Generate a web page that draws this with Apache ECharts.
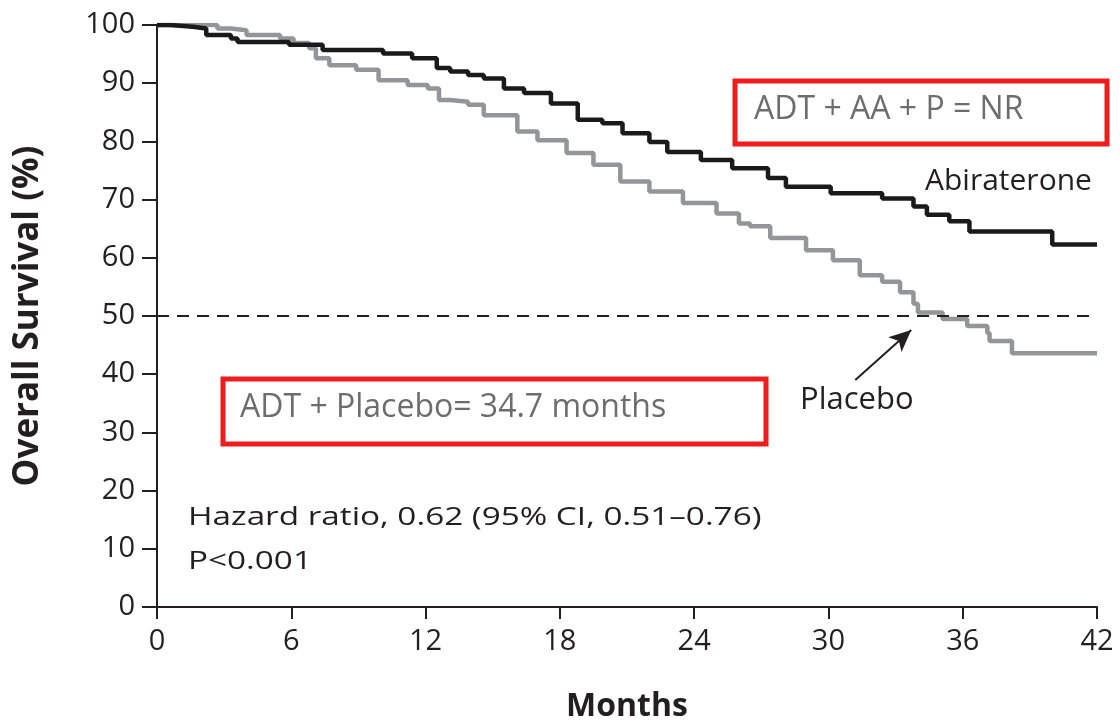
<!DOCTYPE html>
<html>
<head>
<meta charset="utf-8">
<script src="https://cdn.jsdelivr.net/npm/echarts@6/dist/echarts.min.js"></script>
<style>
  html, body { margin: 0; padding: 0; background: #fff; }
  #chart { width: 1120px; height: 726px; }
</style>
</head>
<body>
<div id="chart"></div>
<script>
// months / survival %
const abiMonths = [0, 0.6, 1.6, 2.2, 3.3, 3.6, 5.9, 7.4, 10.1, 11.4, 12.5, 13.1, 13.9, 14.6, 15.5, 16.4, 17.6, 18.8, 19.9, 20.8, 22.0, 22.8, 24.3, 25.7, 27.3, 28.1, 30.1, 32.4, 33.8, 34.4, 35.4, 36.3, 40.0, 42];
const abiSurv   = [100, 99.7, 99.4, 98.3, 97.7, 97.1, 96.6, 95.7, 95.1, 94.3, 92.6, 92.0, 91.4, 90.8, 89.1, 88.3, 86.5, 83.7, 83.1, 81.4, 79.9, 78.2, 76.8, 75.4, 73.7, 72.2, 71.1, 70.2, 68.8, 67.4, 66.3, 64.5, 62.3, 62.3];
const plaMonths = [0, 2.4, 2.7, 3.3, 4.0, 5.5, 6.1, 6.8, 7.1, 7.7, 8.9, 9.9, 11.2, 12.1, 12.6, 13.1, 13.9, 14.6, 16.1, 17.0, 18.3, 19.5, 20.7, 22.0, 23.5, 25.0, 26.0, 26.5, 27.4, 29.0, 30.2, 31.4, 32.4, 33.2, 33.8, 34.0, 35.1, 36.2, 37.1, 37.2, 38.2, 42];
const plaSurv   = [100, 100, 99.4, 99.1, 98.3, 97.7, 96.9, 96.0, 94.3, 93.1, 92.3, 90.5, 89.7, 89.1, 87.1, 86.8, 86.3, 84.5, 81.7, 80.2, 78.0, 76.0, 73.1, 71.4, 69.4, 67.6, 65.9, 65.4, 63.4, 61.3, 59.6, 57.0, 55.9, 54.1, 52.1, 50.6, 49.5, 48.3, 47.1, 45.7, 43.6, 43.6];
const xTicks = [0, 6, 12, 18, 24, 30, 36, 42];
const yTicks = [0, 10, 20, 30, 40, 50, 60, 70, 80, 90, 100];
const medianLine = 50;
const arrowFrom = [31.2, 39.0];
const arrowTo = [33.7, 47.6];

const chart = echarts.init(document.getElementById('chart'));

const txt = '#231f20';
const boxText = '#6d6d6d';
const font = '"Open Sans"';

chart.setOption({
  animation: false,
  grid: { left: 157, right: 23, top: 25, bottom: 119, containLabel: false, outerBoundsMode: 'none' },
  xAxis: {
    type: 'value',
    min: xTicks[0],
    max: xTicks[xTicks.length - 1],
    interval: 6,
    name: 'Months',
    nameLocation: 'middle',
    nameGap: 84,
    nameTextStyle: { fontFamily: font, fontWeight: 'bold', fontSize: 32, color: txt },
    axisLine: { lineStyle: { color: txt, width: 2 } },
    axisTick: { length: 12, lineStyle: { color: txt, width: 2 } },
    axisLabel: { fontFamily: font, fontSize: 29, color: txt, margin: 20 },
    splitLine: { show: false }
  },
  yAxis: {
    type: 'value',
    min: yTicks[0],
    max: yTicks[yTicks.length - 1],
    interval: 10,
    name: 'Overall Survival (%)',
    nameLocation: 'middle',
    nameGap: 111,
    nameTextStyle: { fontFamily: font, fontWeight: 'bold', fontSize: 35, color: txt },
    axisLine: { show: true, lineStyle: { color: txt, width: 2 } },
    axisTick: { show: true, length: 15, lineStyle: { color: txt, width: 2 } },
    axisLabel: { fontFamily: font, fontSize: 29, color: txt, margin: 22 },
    splitLine: { show: false }
  },
  series: [
    {
      name: 'Abiraterone',
      type: 'line',
      step: 'end',
      symbol: 'none',
      lineStyle: { color: '#1a1a1a', width: 4.5 },
      data: abiMonths.map((m, i) => [m, abiSurv[i]]),
      z: 3
    },
    {
      name: 'Placebo',
      type: 'line',
      step: 'end',
      symbol: 'none',
      lineStyle: { color: '#939598', width: 4.5 },
      data: plaMonths.map((m, i) => [m, plaSurv[i]]),
      z: 2,
      markLine: {
        silent: true,
        animation: false,
        label: { show: false },
        data: [
          [
            { coord: [xTicks[0], medianLine], symbol: 'none', lineStyle: { color: txt, type: [12, 8], width: 2 } },
            { coord: [xTicks[xTicks.length - 1], medianLine], symbol: 'none' }
          ],
          [
            { coord: arrowFrom, symbol: 'none', lineStyle: { color: txt, type: 'solid', width: 2 } },
            { coord: arrowTo, symbol: 'arrow', symbolSize: [15, 22] }
          ]
        ]
      }
    }
  ],
  graphic: [
    { type: 'text', left: 925, top: 166, style: { text: 'Abiraterone', font: '30px ' + font, fill: txt } },
    { type: 'text', left: 800, top: 385, style: { text: 'Placebo', font: '31px ' + font, fill: txt } },
    {
      type: 'text', x: 188, y: 496, scaleX: 1.28, scaleY: 1,
      style: { text: 'Hazard ratio, 0.62 (95% CI, 0.51\u20130.76)\nP<0.001', font: '26px ' + font, lineHeight: 44, fill: txt, align: 'left', verticalAlign: 'top' }
    },
    { type: 'rect', shape: { x: 735, y: 81, width: 372, height: 63 }, style: { fill: 'none', stroke: '#ee1c1c', lineWidth: 5 } },
    { type: 'text', left: 754, top: 94, style: { text: 'ADT + AA + P = NR', font: '32px ' + font, fill: boxText } },
    { type: 'rect', shape: { x: 223, y: 379, width: 543, height: 65 }, style: { fill: 'none', stroke: '#ee1c1c', lineWidth: 5 } },
    { type: 'text', left: 240, top: 392, style: { text: 'ADT + Placebo= 34.7 months', font: '32px ' + font, fill: boxText } }
  ]
});
</script>
</body>
</html>
